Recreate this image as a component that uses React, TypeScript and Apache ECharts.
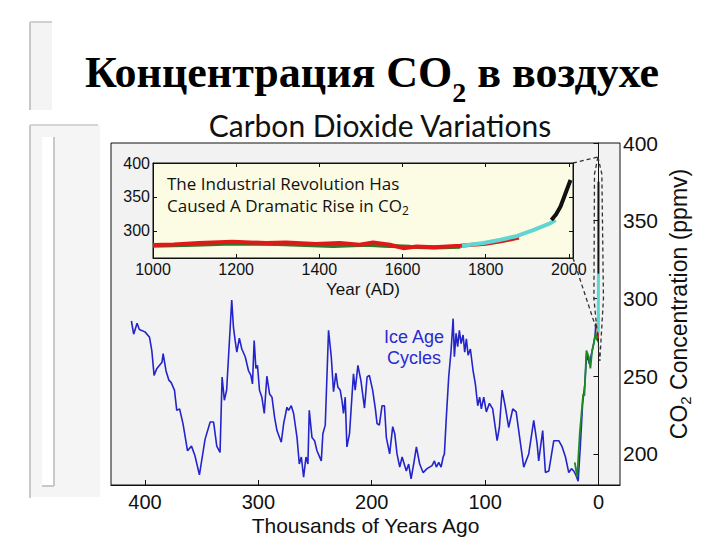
import React, { useEffect, useRef } from 'react';
import * as echarts from 'echarts';

// ---- Main chart data: [thousands of years ago, CO2 ppmv] ----
const ICE_CORE_BLUE: [number, number][] = [
  [412, 285.5], [410, 277], [407, 284], [405, 280], [400, 278.5], [396, 275], [394, 266.5], [392, 250.5],
  [389.5, 255], [385, 259], [384, 264.5], [381.5, 253.5], [379, 247.5], [377, 246], [374, 241], [372, 228],
  [369.5, 229], [366.5, 219.5], [362.5, 202], [359, 205], [356, 199], [352, 186.5], [347, 209.5],
  [342.5, 220.5], [339.5, 220.5], [336.7, 205], [333.8, 201], [332, 249.5], [330, 234.5], [328, 241],
  [325, 279.5], [323.5, 299], [322, 281.5], [320.5, 273], [319, 265.5], [316.8, 274.5], [314.6, 267.5],
  [311.6, 262.5], [308.7, 253.5], [306.6, 250.5], [305.2, 245], [303.7, 273], [302.2, 255], [300.8, 257],
  [299, 241], [296.9, 236.5], [294.8, 226], [292.5, 250], [290.1, 238.5], [288, 236.5], [285.7, 223.5],
  [283.6, 215], [279.8, 207.5], [277.7, 219.5], [274.8, 230], [273.3, 228], [271, 231], [268.9, 226],
  [265.9, 210.5], [263.9, 193.5], [262.1, 198], [260.1, 185], [258, 198], [256.3, 193.5], [255.1, 228],
  [252.7, 210.5], [250.4, 208.5], [248.3, 202], [244.5, 195.5], [243.1, 213], [241, 218.5], [238.1, 279.5],
  [235.7, 262.5], [233.7, 240], [231.6, 252], [229.9, 243], [227.8, 241], [226.3, 234.5], [224.9, 226],
  [223.4, 236.5], [221.9, 204.5], [219.6, 213], [217.5, 236.5], [216.1, 251.5], [214.6, 241], [212.2, 257],
  [209.5, 247], [206.4, 229.5], [204.1, 249.5], [202.1, 250.5], [199.2, 241], [196.8, 229], [195.3, 219.5],
  [193.3, 218.5], [190.9, 231], [188.8, 231], [187.1, 210.5], [184.2, 200], [181.5, 217.5], [179.7, 213],
  [177.7, 200], [175.3, 191.5], [173.2, 198], [169.5, 189], [167.4, 193.5], [165.3, 184], [163, 193.5],
  [160.6, 204.5], [157.7, 193.5], [154.7, 188], [151.2, 190.5], [146.8, 192.5], [144.7, 195.5], [143, 191.5],
  [140.9, 194.5], [138.8, 191.5], [137, 198], [135.9, 200], [134.2, 223.5], [132.1, 249.5], [130, 266.5],
  [128.2, 287], [127.1, 262.5], [125.6, 277.5], [124.2, 269], [122.7, 279.5], [121.2, 271], [119.4, 276.5],
  [118, 265.5], [116.5, 274], [115, 263.5], [113, 267.5], [110.6, 253.5], [108.6, 245], [106.5, 231],
  [104.8, 236.5], [103.3, 229], [101.2, 236.5], [98.9, 227], [96.2, 232.5], [93.3, 229], [89.4, 208.5],
  [87.4, 217], [85, 241], [82.1, 230], [79.2, 217], [75.6, 229], [72.6, 227], [69.5, 210.5], [65.9, 191.5],
  [61.5, 200], [57.1, 221.5], [54.1, 206.5], [52.7, 195.5], [49.2, 215], [46.8, 188], [43.8, 189],
  [39.4, 208.5], [35, 208.5], [32, 204.5], [29.1, 198], [26.2, 188], [23.8, 190.5], [21.8, 189], [19.7, 186],
  [17.9, 182.5], [16, 205], [14, 232], [12, 245], [10.5, 264], [8, 258], [5, 268], [3, 276], [2.3, 284],
];

const ICE_CORE_GREEN: [number, number][] = [
  [20.9, 194.5], [18.8, 185], [16.5, 213], [13.5, 238.5], [12.4, 237.5], [10.6, 266.5], [8.6, 262.5],
  [7.1, 255], [5.6, 266.5], [4.1, 271], [2.6, 277.5], [1.1, 273], [0.3, 280],
];

// ---- Inset data: [year AD, CO2 ppmv] ----
const INSET_GREEN: [number, number][] = [
  [1000, 278], [1100, 279.5], [1191, 281.5], [1300, 280.5], [1433, 277.5], [1514, 279.5], [1555, 278],
  [1618, 276.5], [1675, 275.5], [1739, 276.5],
];
const INSET_RED: [number, number][] = [
  [1000, 279], [1050, 280], [1111, 282], [1191, 284], [1272, 282], [1320, 283], [1392, 280.5], [1449, 282],
  [1497, 279.5], [1529, 283], [1570, 279.5], [1602, 274.5], [1634, 277], [1675, 276], [1739, 278],
  [1800, 281], [1840, 285], [1880, 290],
];
const INSET_CYAN: [number, number][] = [
  [1743, 278], [1795, 282], [1836, 287], [1876, 292.5], [1916, 301.5], [1956, 311.5], [1968, 316],
];
const INSET_BLACK: [number, number][] = [
  [1958, 316], [1970, 325], [1980, 336], [1990, 352], [2004, 375],
];

// ---- Axes ----
const MAIN_X_TICKS = [0, 100, 200, 300, 400];
const MAIN_Y_TICKS = [200, 250, 300, 350, 400];
const INSET_X_TICKS = [1000, 1200, 1400, 1600, 1800, 2000];
const INSET_Y_TICKS = [300, 350, 400];

// ---- Dashed zoom indicator (main data coordinates) ----
const ZOOM_APEX: [number, number] = [0.5, 391];
const ZOOM_RIGHT: [number, number][] = [[0.5, 391], [-3, 380], [-4.4, 300], [-1.2, 260]];
const ZOOM_LEFT: [number, number][] = [[0.5, 391], [3.5, 380], [4, 300], [-1.2, 260]];
const ZOOM_LOW: [number, number] = [2.6, 282];

const toKyr = (d: [number, number][]) => d.map(([y, v]) => [(2000 - y) / 1000, v]);

const SANS = 'Liberation Sans, Arial, sans-serif';
const BLACK = '#111';
const plain = (v: number) => String(v);

export default function App() {
  const ref = useRef<HTMLDivElement>(null);
  useEffect(() => {
    const chart = echarts.init(ref.current!, null, { renderer: 'svg' });
    const option: any = {
      animation: false,
      backgroundColor: '#ffffff',
      grid: [
        { left: 111, top: 143, width: 509, height: 342, show: true, backgroundColor: '#f2f2f2', borderColor: BLACK, borderWidth: 1, outerBoundsMode: 'none', containLabel: false },
        { left: 153, top: 163, width: 420, height: 95, show: true, backgroundColor: '#fcfbe3', borderColor: BLACK, borderWidth: 1, outerBoundsMode: 'none', containLabel: false },
      ],
      xAxis: [
        {
          gridIndex: 0, type: 'value', min: -19, max: 430, inverse: true, position: 'bottom',
          axisLine: { show: true, lineStyle: { color: BLACK, width: 1 } },
          axisTick: { show: true, inside: true, length: 5, customValues: MAIN_X_TICKS, lineStyle: { color: BLACK } },
          axisLabel: { customValues: MAIN_X_TICKS, formatter: plain, fontSize: 20, color: BLACK, fontFamily: SANS, margin: 7 },
          splitLine: { show: false },
          name: 'Thousands of Years Ago', nameLocation: 'middle', nameGap: 30, nameMoveOverlap: false,
          nameTextStyle: { fontSize: 21, color: BLACK, fontFamily: SANS },
        },
        {
          gridIndex: 1, type: 'value', min: 1000, max: 2010, position: 'bottom',
          axisLine: { show: true, lineStyle: { color: BLACK, width: 1 } },
          axisTick: { show: true, inside: true, length: 4, customValues: INSET_X_TICKS, lineStyle: { color: BLACK } },
          axisLabel: { customValues: INSET_X_TICKS, formatter: plain, fontSize: 16, color: BLACK, fontFamily: SANS, margin: 3 },
          splitLine: { show: false },
          name: 'Year (AD)', nameLocation: 'middle', nameGap: 23,
          nameTextStyle: { fontSize: 17, color: BLACK, fontFamily: SANS },
        },
        {
          gridIndex: 1, type: 'value', min: 1000, max: 2010, position: 'top',
          axisLine: { show: true, lineStyle: { color: BLACK, width: 1 } },
          axisTick: { show: true, inside: true, length: 4, customValues: INSET_X_TICKS, lineStyle: { color: BLACK } },
          axisLabel: { show: false },
          splitLine: { show: false },
        },
      ],
      yAxis: [
        {
          gridIndex: 0, type: 'value', min: 180, max: 400, position: 'right',
          axisLine: { show: true, lineStyle: { color: BLACK, width: 1 } },
          axisTick: { show: true, inside: true, length: 5, customValues: MAIN_Y_TICKS, lineStyle: { color: BLACK } },
          axisLabel: { customValues: MAIN_Y_TICKS, formatter: plain, fontSize: 21, color: BLACK, fontFamily: SANS, margin: 3 },
          splitLine: { show: false },
        },
        {
          gridIndex: 1, type: 'value', min: 260, max: 400, position: 'left',
          axisLine: { show: true, lineStyle: { color: BLACK, width: 1 } },
          axisTick: { show: true, inside: true, length: 4, customValues: INSET_Y_TICKS, lineStyle: { color: BLACK } },
          axisLabel: { customValues: INSET_Y_TICKS, formatter: plain, fontSize: 16, color: BLACK, fontFamily: SANS, margin: 3 },
          splitLine: { show: false },
        },
        {
          gridIndex: 1, type: 'value', min: 260, max: 400, position: 'right',
          axisLine: { show: true, lineStyle: { color: BLACK, width: 1 } },
          axisTick: { show: true, inside: true, length: 4, customValues: INSET_Y_TICKS, lineStyle: { color: BLACK } },
          axisLabel: { show: false },
          splitLine: { show: false },
        },
      ],
      series: [
        { type: 'line', xAxisIndex: 0, yAxisIndex: 0, data: ICE_CORE_BLUE, symbol: 'none', lineStyle: { color: '#2424cc', width: 1.6 } },
        { type: 'line', xAxisIndex: 0, yAxisIndex: 0, data: ICE_CORE_GREEN, symbol: 'none', lineStyle: { color: '#1f8a1f', width: 1.8 } },
        { type: 'line', xAxisIndex: 0, yAxisIndex: 0, data: toKyr(INSET_RED), symbol: 'none', lineStyle: { color: '#e02020', width: 2 } },
        { type: 'line', xAxisIndex: 0, yAxisIndex: 0, data: toKyr(INSET_CYAN), symbol: 'none', lineStyle: { color: '#5fd6d2', width: 3 } },
        { type: 'line', xAxisIndex: 0, yAxisIndex: 0, data: toKyr(INSET_BLACK), symbol: 'none', lineStyle: { color: '#111', width: 2 } },
        { type: 'line', xAxisIndex: 1, yAxisIndex: 1, data: INSET_GREEN, symbol: 'none', lineStyle: { color: '#2a7a26', width: 4 } },
        { type: 'line', xAxisIndex: 1, yAxisIndex: 1, data: INSET_RED, symbol: 'none', lineStyle: { color: '#e01818', width: 4 } },
        { type: 'line', xAxisIndex: 1, yAxisIndex: 1, data: INSET_CYAN, symbol: 'none', lineStyle: { color: '#5fd6d2', width: 4 } },
        { type: 'line', xAxisIndex: 1, yAxisIndex: 1, data: INSET_BLACK, symbol: 'none', lineStyle: { color: '#111', width: 4 } },
      ],
    };
    chart.setOption(option);

    const m = (p: [number, number]) => chart.convertToPixel({ seriesIndex: 0 }, p) as number[];
    const ins = (p: [number, number]) => chart.convertToPixel({ seriesIndex: 6 }, p) as number[];
    const dash = { stroke: '#333', lineWidth: 1.3, lineDash: [4, 3], fill: null };

    const graphics: any[] = [
      // slide decorations
      { type: 'rect', shape: { x: 30, y: 22, width: 22, height: 88 }, style: { fill: '#f4f4f4' }, silent: true },
      { type: 'line', shape: { x1: 30, y1: 22, x2: 30, y2: 110 }, style: { stroke: '#c8c8c8', lineWidth: 2 } },
      { type: 'line', shape: { x1: 30, y1: 22, x2: 52, y2: 22 }, style: { stroke: '#d0d0d0', lineWidth: 2 } },
      { type: 'rect', shape: { x: 30, y: 125, width: 70, height: 372 }, style: { fill: '#f5f5f5' } },
      { type: 'line', shape: { x1: 30, y1: 125, x2: 30, y2: 498 }, style: { stroke: '#c8c8c8', lineWidth: 2 } },
      { type: 'line', shape: { x1: 30, y1: 125, x2: 98, y2: 125 }, style: { stroke: '#d4d4d4', lineWidth: 2 } },
      { type: 'rect', shape: { x: 42, y: 137, width: 12, height: 349 }, style: { fill: '#ffffff' } },
      { type: 'line', shape: { x1: 54, y1: 137, x2: 54, y2: 486 }, style: { stroke: '#c8c8c8', lineWidth: 2 } },
      { type: 'line', shape: { x1: 42, y1: 486, x2: 54, y2: 486 }, style: { stroke: '#c8c8c8', lineWidth: 2 } },
      // titles
      {
        type: 'text', x: 372, y: 72, z: 10,
        style: {
          text: '{a|Концентрация CO}{s|2}{a| в воздухе}', textAlign: 'center', textVerticalAlign: 'middle',
          rich: {
            a: { fontFamily: 'Liberation Serif, Times New Roman, serif', fontWeight: 'bold', fontSize: 44, fill: '#000' },
            s: { fontFamily: 'Liberation Serif, Times New Roman, serif', fontWeight: 'bold', fontSize: 28, fill: '#000', padding: [40, 0, 0, 0] },
          },
        },
      },
      {
        type: 'text', x: 380, y: 125, z: 10,
        style: { text: 'Carbon Dioxide Variations', fontFamily: 'Lato, Open Sans, sans-serif', fontSize: 30, fill: '#111', textAlign: 'center', textVerticalAlign: 'middle' },
      },
      {
        type: 'text', x: 167, y: 173, z: 10,
        style: {
          text: '{a|The Industrial Revolution Has}', textAlign: 'left', textVerticalAlign: 'top',
          rich: { a: { fontFamily: 'Open Sans, sans-serif', fontSize: 17, fill: '#111', lineHeight: 20 } },
        },
      },
      {
        type: 'text', x: 167, y: 195, z: 10,
        style: {
          text: '{a|Caused A Dramatic Rise in CO}{s|2}', textAlign: 'left', textVerticalAlign: 'top',
          rich: {
            a: { fontFamily: 'Open Sans, sans-serif', fontSize: 17, fill: '#111', lineHeight: 20 },
            s: { fontFamily: 'Open Sans, sans-serif', fontSize: 12, fill: '#111', lineHeight: 10, padding: [10, 0, 0, 0] },
          },
        },
      },
      {
        type: 'text', x: 414, y: 347, z: 10,
        style: { text: 'Ice Age\nCycles', fontFamily: SANS, fontSize: 18, lineHeight: 21, fill: '#2a2ad0', textAlign: 'center', textVerticalAlign: 'middle' },
      },
      {
        type: 'text', x: 679, y: 304, z: 10, rotation: Math.PI / 2,
        style: {
          text: '{a|CO}{s|2}{a| Concentration (ppmv)}', textAlign: 'center', textVerticalAlign: 'middle',
          rich: {
            a: { fontSize: 23, fill: BLACK, fontFamily: SANS },
            s: { fontSize: 15, fill: BLACK, fontFamily: SANS, padding: [12, 0, 0, 0] },
          },
        },
      },
    ];

    const apex = m(ZOOM_APEX);
    const tr = ins([2010, 400]);
    const br = ins([2010, 260]);
    const low = m(ZOOM_LOW);
    graphics.push(
      { type: 'polyline', z: 10, shape: { points: [tr, apex] }, style: dash },
      { type: 'polyline', z: 10, shape: { points: [br, low] }, style: dash },
      { type: 'polyline', z: 10, shape: { points: ZOOM_RIGHT.map(m) }, style: dash },
      { type: 'polyline', z: 10, shape: { points: ZOOM_LEFT.map(m) }, style: dash },
    );
    chart.setOption({ graphic: graphics });
    return () => chart.dispose();
  }, []);
  return <div ref={ref} style={{ position: 'fixed', left: 0, top: 0, width: 720, height: 540, background: '#fff' }} />;
}
